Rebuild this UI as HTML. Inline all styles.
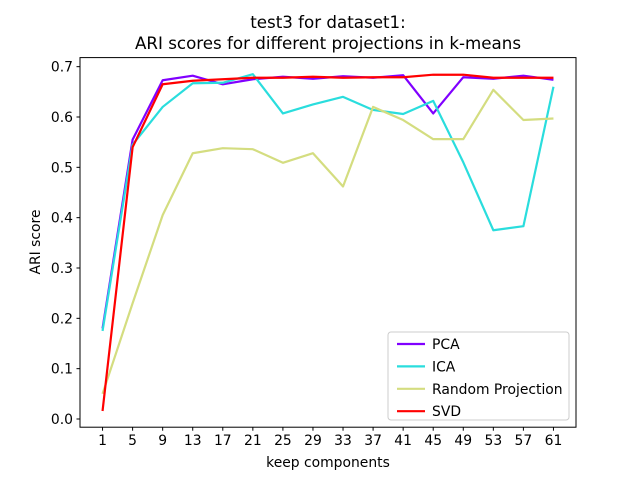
<!DOCTYPE html>
<html><head><meta charset="utf-8"><style>
body{margin:0;background:#fff}
svg{font-family:"DejaVu Sans","Liberation Sans",sans-serif}
</style></head><body>
<svg id="chart" width="640" height="480" viewBox="0 0 640 480">
<rect width="640" height="480" fill="#fff"/>
<text x="328" y="28" text-anchor="middle" font-size="16.7">test3 for dataset1:</text>
<text x="328" y="49" text-anchor="middle" font-size="16.7">ARI scores for different projections in k-means</text>
<g id="plot"></g>
<rect x="80" y="57.6" width="496" height="369.6" fill="none" stroke="#000" stroke-width="1"/>
<text x="328" y="467" text-anchor="middle" font-size="13.9">keep components</text>
<text transform="translate(40,242) rotate(-90)" text-anchor="middle" font-size="13.9">ARI score</text>
<g>
<rect x="388" y="332" width="181" height="88" rx="3" fill="#fff" fill-opacity="0.8" stroke="#ccc"/>
<g id="legend-items"></g>
</g>
</svg>
<script>
const categories=[1,5,9,13,17,21,25,29,33,37,41,45,49,53,57,61];
const pcaValues=[0.18,0.555,0.673,0.682,0.665,0.675,0.68,0.676,0.681,0.678,0.683,0.607,0.679,0.676,0.682,0.674];
const icaValues=[0.175,0.545,0.62,0.667,0.668,0.685,0.607,0.625,0.64,0.614,0.606,0.632,0.51,0.375,0.383,0.66];
const rpValues=[0.05,0.23,0.405,0.528,0.538,0.536,0.509,0.528,0.462,0.62,0.594,0.556,0.556,0.654,0.594,0.597];
const svdValues=[0.016,0.54,0.665,0.672,0.675,0.678,0.678,0.68,0.678,0.679,0.679,0.684,0.684,0.678,0.678,0.678];
const seriesNames=["PCA","ICA","Random Projection","SVD"];
const yTicks=[0.0,0.1,0.2,0.3,0.4,0.5,0.6,0.7];
const colors=["#8000ff","#2adddd","#d4dd80","#ff0000"];
const NS="http://www.w3.org/2000/svg";
const X0=80,X1=576,Y0=427.2,Y1=57.6;
const xmin=-2,xmax=64,ymin=-0.0163,ymax=0.718;
const sx=v=>X0+(v-xmin)/(xmax-xmin)*(X1-X0);
const sy=v=>Y0-(v-ymin)/(ymax-ymin)*(Y0-Y1);
const plot=document.getElementById('plot');
function mk(t,a){const e=document.createElementNS(NS,t);for(const k in a)e.setAttribute(k,a[k]);return e;}
categories.forEach(c=>{
  const t=mk('line',{x1:sx(c),x2:sx(c),y1:Y0,y2:Y0+3.5,stroke:'#000'});
  
  
  plot.appendChild(t);
  const l=mk('text',{x:sx(c),y:Y0+18,'text-anchor':'middle','font-size':'13.9'});
  
  
  l.textContent=c;plot.appendChild(l);
});
yTicks.forEach(v=>{
  const t=mk('line',{x1:X0-3.5,x2:X0,y1:sy(v),y2:sy(v),stroke:'#000'});
  
  
  plot.appendChild(t);
  const l=mk('text',{x:X0-7,y:sy(v)+5,'text-anchor':'end','font-size':'13.9'});
  
  
  l.textContent=v.toFixed(1);plot.appendChild(l);
});
[pcaValues,icaValues,rpValues,svdValues].forEach((vals,i)=>{
  const p=mk('polyline',{points:vals.map((v,j)=>sx(categories[j])+','+sy(v)).join(' '),fill:'none',stroke:colors[i],'stroke-width':2.2,'stroke-linejoin':'round'});
  
  
  plot.appendChild(p);
});
const lg=document.getElementById('legend-items');
seriesNames.forEach((n,i)=>{
  const y=344+i*22.4;
  const g=mk('g',{});
  
  
  g.appendChild(mk('line',{x1:397,x2:425,y1:y,y2:y,stroke:colors[i],'stroke-width':2.2}));
  const t=mk('text',{x:432,y:y+5,'font-size':'13.9'});t.textContent=n;g.appendChild(t);
  lg.appendChild(g);
});
</script>
</body></html>
